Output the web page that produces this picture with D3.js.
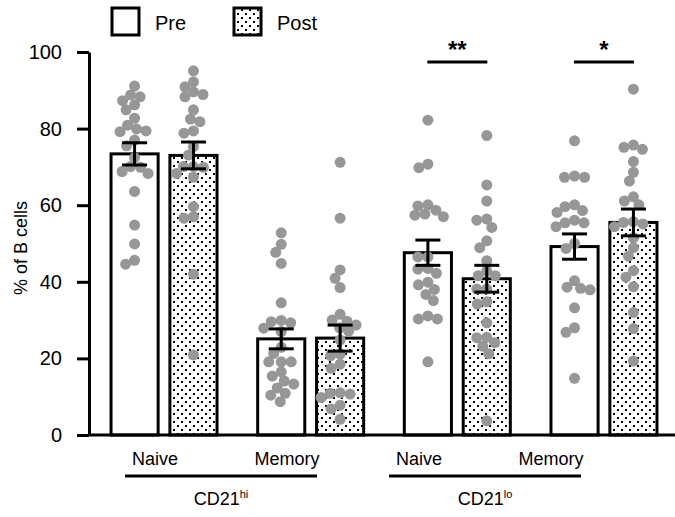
<!DOCTYPE html>
<html>
<head>
<meta charset="utf-8">
<script src="https://cdn.jsdelivr.net/npm/d3@7/dist/d3.min.js"></script>
<style>
  body { margin: 0; background: #fff; }
  text { font-family: "Liberation Sans", Arial, sans-serif; fill: #000; }
</style>
</head>
<body>
<script>
'use strict';

var width  = 675;
var height = 517;

// data
var groups     = ['hi-naive', 'hi-memory', 'lo-naive', 'lo-memory'];
var labels     = ['Naive', 'Memory', 'Naive', 'Memory'];
var conditions = ['Pre', 'Post'];
var subsets    = [{ name: 'CD21', sup: 'hi', groups: [0, 1] }, { name: 'CD21', sup: 'lo', groups: [2, 3] }];
var yTicks     = [0, 20, 40, 60, 80, 100];

var preMean  = [73.4, 25.1, 47.6, 49.2];
var postMean = [73.0, 25.3, 40.8, 55.5];
var preSem   = [2.9, 2.6, 3.3, 3.3];
var postSem  = [3.5, 3.4, 3.5, 3.5];

var prePoints = [
  [91.1, 88.8, 87.3, 88.3, 86.2, 84.9, 82.7, 80.9, 79.4, 79.2, 79.9, 77.0, 75.5, 72.4, 69.9, 68.3, 68.8, 70.1, 63.6, 54.8, 49.9, 44.6, 45.6],
  [52.8, 49.8, 47.7, 44.8, 34.5, 29.6, 27.9, 29.3, 29.9, 27.0, 22.9, 21.3, 19.1, 19.1, 19.1, 16.5, 15.4, 14.1, 13.3, 12.3, 10.9, 10.4, 8.7],
  [82.2, 69.8, 70.7, 60.1, 59.8, 58.7, 57.4, 57.0, 57.7, 46.5, 46.5, 43.5, 43.3, 42.2, 39.9, 39.2, 38.0, 36.7, 35.1, 30.3, 30.3, 31.1, 19.1],
  [76.8, 67.3, 67.3, 67.6, 59.6, 58.6, 60.1, 58.1, 56.1, 55.4, 54.4, 55.4, 50.0, 48.7, 40.3, 38.3, 37.9, 38.6, 33.2, 28.0, 26.8, 14.8]
];
var postPoints = [
  [95.1, 92.2, 90.9, 88.9, 89.6, 88.3, 84.9, 82.5, 81.8, 79.4, 78.8, 75.3, 73.1, 69.9, 68.3, 67.3, 70.1, 70.1, 59.6, 56.6, 57.0, 42.0, 20.9],
  [71.2, 56.6, 43.1, 40.9, 38.5, 31.5, 30.0, 29.7, 28.7, 27.1, 28.0, 24.8, 20.7, 21.1, 18.5, 17.4, 11.0, 10.7, 9.8, 10.9, 7.8, 6.8, 4.1],
  [78.2, 65.3, 61.1, 56.4, 56.1, 54.2, 50.7, 48.9, 45.5, 42.8, 41.6, 41.6, 38.1, 38.1, 34.8, 34.2, 29.3, 25.4, 25.5, 23.2, 24.1, 21.2, 3.7],
  [90.3, 75.7, 74.6, 75.1, 71.4, 68.6, 66.3, 62.2, 61.1, 60.1, 55.7, 55.1, 54.4, 55.5, 51.5, 48.9, 46.7, 42.9, 41.2, 38.7, 32.0, 27.8, 19.3]
];

var significance = [{ group: 2, text: '**' }, { group: 3, text: '*' }];

var svg = d3.select('body').append('svg')
    .attr('width', width)
    .attr('height', height);

var defs = svg.append('defs');
var pat = defs.append('pattern')
    .attr('id', 'dots')
    .attr('patternUnits', 'userSpaceOnUse')
    .attr('width', 8)
    .attr('height', 8);
pat.append('rect').attr('width', 8).attr('height', 8).attr('fill', '#fff');
pat.append('rect').attr('x', 1).attr('y', 1).attr('width', 2).attr('height', 2).attr('fill', '#000');
pat.append('rect').attr('x', 5).attr('y', 5).attr('width', 2).attr('height', 2).attr('fill', '#000');

var y = d3.scaleLinear().domain([0, 100]).range([435, 52]);
var x0 = d3.scaleBand().domain(groups).range([90.7, 677.3]);
var x1 = d3.scaleBand().domain(conditions).range([-53, 53]).paddingInner(0.2);
var xLabel = d3.scalePoint().domain(d3.range(labels.length)).range([155, 551]);

function center(gi) { return x0(groups[gi]) + x0.bandwidth() / 2; }
function barCenter(gi, c) { return center(gi) + x1(c) + x1.bandwidth() / 2; }

var bars = [];
groups.forEach(function(g, i) {
  bars.push({ g: i, c: 'Pre',  mean: preMean[i],  sem: preSem[i],  pts: prePoints[i] });
  bars.push({ g: i, c: 'Post', mean: postMean[i], sem: postSem[i], pts: postPoints[i] });
});

// bars
svg.append('g').selectAll('rect').data(bars).enter().append('rect')
  .attr('x', function(d) { return center(d.g) + x1(d.c); })
  .attr('y', function(d) { return y(d.mean); })
  .attr('width', x1.bandwidth())
  .attr('height', function(d) { return y(0) - y(d.mean); })
  .attr('fill', function(d) { return d.c === 'Pre' ? '#fff' : 'url(#dots)'; })
  .attr('stroke', '#000')
  .attr('stroke-width', 3);

// swarm layout for the points
var r = 5.5;
function swarm(values, cx) {
  var placed = [];
  var order = values.map(function(v, i) { return i; })
    .sort(function(a, b) { return values[b] - values[a]; });
  order.forEach(function(i) {
    var py = y(values[i]);
    var dx = 0, k = 0;
    while (true) {
      dx = (k % 2 === 0 ? 1 : -1) * Math.ceil(k / 2) * 0.5;
      var ok = placed.every(function(p) {
        var ddx = p.x - (cx + dx), ddy = p.y - py;
        return ddx * ddx + ddy * ddy >= 9.6 * 9.6;
      });
      if (ok) break;
      k++;
    }
    placed.push({ x: cx + dx, y: py });
  });
  return placed;
}

var dots = [];
bars.forEach(function(b) {
  dots = dots.concat(swarm(b.pts, barCenter(b.g, b.c)));
});

svg.append('g').selectAll('circle').data(dots).enter().append('circle')
  .attr('cx', function(d) { return d.x; })
  .attr('cy', function(d) { return d.y; })
  .attr('r', r)
  .attr('fill', '#979797');

// error bars
var eb = svg.append('g').attr('stroke', '#000').attr('stroke-width', 3);
bars.forEach(function(b) {
  var cx = barCenter(b.g, b.c);
  eb.append('line').attr('x1', cx).attr('x2', cx)
    .attr('y1', y(b.mean + b.sem)).attr('y2', y(b.mean - b.sem));
  eb.append('line').attr('x1', cx - 12.5).attr('x2', cx + 12.5)
    .attr('y1', y(b.mean + b.sem)).attr('y2', y(b.mean + b.sem));
  eb.append('line').attr('x1', cx - 12.5).attr('x2', cx + 12.5)
    .attr('y1', y(b.mean - b.sem)).attr('y2', y(b.mean - b.sem));
});

// y axis
var yAxis = svg.append('g')
  .attr('transform', 'translate(89,0)')
  .call(d3.axisLeft(y).tickValues(yTicks).tickSize(12).tickSizeOuter(0).tickPadding(15));
yAxis.selectAll('path, line').attr('stroke', '#000').attr('stroke-width', 3);
yAxis.selectAll('text').attr('font-size', 20).attr('font-family', '"Liberation Sans", Arial, sans-serif');

// x baseline
svg.append('line')
  .attr('x1', 89).attr('x2', width)
  .attr('y1', y(0)).attr('y2', y(0))
  .attr('stroke', '#000').attr('stroke-width', 3);

svg.append('text')
  .attr('transform', 'translate(27,' + (y(50) + 4.5) + ') rotate(-90)')
  .attr('text-anchor', 'middle')
  .attr('font-size', 18)
  .text('% of B cells');

// category labels
svg.append('g').selectAll('text').data(labels).enter().append('text')
  .attr('x', function(d, i) { return xLabel(i); })
  .attr('y', 465)
  .attr('text-anchor', 'middle')
  .attr('font-size', 18)
  .text(function(d) { return d; });

subsets.forEach(function(s) {
  var a = xLabel(s.groups[0]), b = xLabel(s.groups[1]);
  svg.append('line')
    .attr('x1', a - 30).attr('x2', b + 30)
    .attr('y1', 476).attr('y2', 476)
    .attr('stroke', '#000').attr('stroke-width', 3);
  var t = svg.append('text')
    .attr('x', (a + b) / 2)
    .attr('y', 505)
    .attr('text-anchor', 'middle')
    .attr('font-size', 18);
  t.append('tspan').text(s.name);
  t.append('tspan').attr('font-size', 11).attr('dy', -7).text(s.sup);
});

// significance
significance.forEach(function(s) {
  var cx = center(s.group);
  svg.append('line')
    .attr('x1', cx - 30).attr('x2', cx + 30)
    .attr('y1', 62).attr('y2', 62)
    .attr('stroke', '#000').attr('stroke-width', 3);
  svg.append('text')
    .attr('x', cx)
    .attr('y', 58)
    .attr('text-anchor', 'middle')
    .attr('font-size', 24)
    .attr('font-weight', 'bold')
    .text(s.text);
});

// legend
var legend = svg.append('g');
conditions.forEach(function(c, i) {
  var lx = 112 + i * 122;
  legend.append('rect')
    .attr('x', lx).attr('y', 8)
    .attr('width', 27).attr('height', 27)
    .attr('fill', c === 'Pre' ? '#fff' : 'url(#dots)')
    .attr('stroke', '#000').attr('stroke-width', 3);
  legend.append('text')
    .attr('x', lx + 43).attr('y', 30)
    .attr('font-size', 20)
    .text(c);
});
</script>
</body>
</html>
